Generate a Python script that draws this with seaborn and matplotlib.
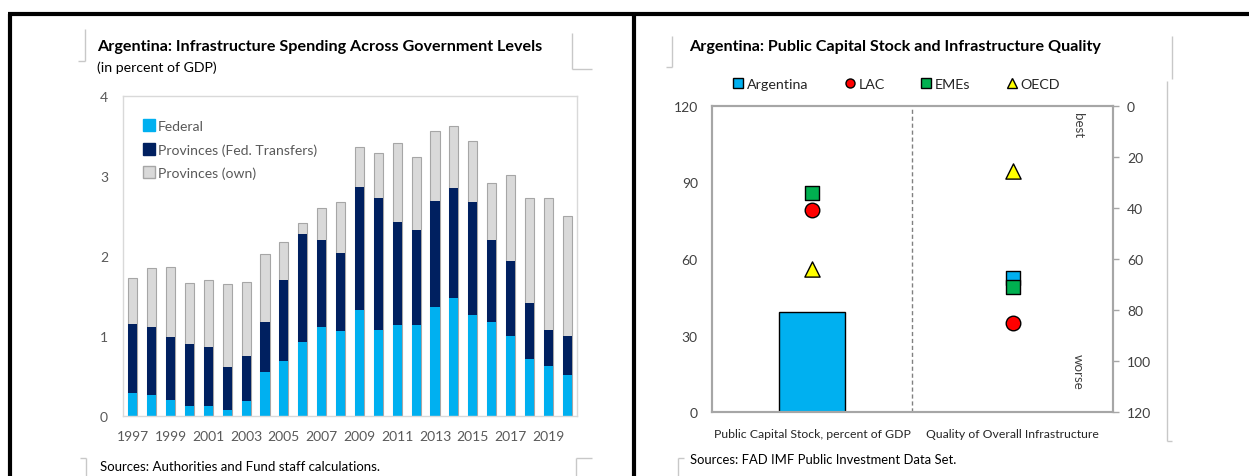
import numpy as np
import pandas as pd
import matplotlib
matplotlib.use("Agg")
import matplotlib.pyplot as plt
from matplotlib.lines import Line2D
import seaborn as sns

# ---------------- data ----------------
years = [str(y) for y in range(1997, 2021)]
federal = [0.29, 0.26, 0.20, 0.12, 0.12, 0.07, 0.19, 0.55, 0.69, 0.92, 1.11, 1.06,
           1.32, 1.07, 1.14, 1.14, 1.36, 1.47, 1.26, 1.17, 1.00, 0.71, 0.62, 0.51]
prov_transfers = [0.86, 0.85, 0.79, 0.78, 0.74, 0.54, 0.56, 0.62, 1.01, 1.36, 1.09, 0.98,
                  1.54, 1.66, 1.29, 1.18, 1.33, 1.38, 1.42, 1.03, 0.94, 0.70, 0.45, 0.49]
prov_own = [0.58, 0.74, 0.87, 0.76, 0.84, 1.04, 0.92, 0.85, 0.47, 0.13, 0.40, 0.64,
            0.51, 0.56, 0.99, 0.92, 0.87, 0.78, 0.76, 0.72, 1.07, 1.32, 1.66, 1.50]

categories = ["Public Capital Stock, percent of GDP", "Quality of Overall Infrastructure"]
groups = ["Argentina", "LAC", "EMEs", "OECD"]
capital_stock = [39.1, 79.2, 85.7, 56.1]      # percent of GDP (left axis)
quality_rank = [67.4, 85.2, 70.8, 25.4]       # rank (right axis, inverted)

# ---------------- style ----------------
sns.set_theme(style="white")
plt.rcParams["font.family"] = ["Lato", "DejaVu Sans"]

C_FED = "#00B0F0"
C_TRANS = "#002060"
C_OWN = "#D9D9D9"
group_colors = {"Argentina": "#00B0F0", "LAC": "#FF0000", "EMEs": "#00B050", "OECD": "#FFFF00"}
group_markers = {"Argentina": "s", "LAC": "o", "EMEs": "s", "OECD": "^"}
group_sizes = {"Argentina": 95, "LAC": 110, "EMEs": 95, "OECD": 120}

W, H = 1249, 477
fig = plt.figure(figsize=(W / 100, H / 100), dpi=100)
fig.patch.set_facecolor("white")


def fx(px):
    return px / W


def fy(py):
    return 1 - py / H


def fig_line(xs, ys, color, lw):
    fig.add_artist(Line2D([fx(x) for x in xs], [fy(y) for y in ys],
                          transform=fig.transFigure, color=color, lw=lw,
                          solid_capstyle="butt"))


# panel frame
fig_line([8, W], [15, 15], "black", 3)
fig_line([9.5, 9.5], [15, H], "black", 3)
fig_line([634, 634], [15, H], "black", 3)

# light corner marks around titles / sources
CM = "#C8C8C8"
fig_line([85, 85], [30, 62], CM, 1)
fig_line([78, 85], [62, 62], CM, 1)
fig_line([572, 572], [34, 70], CM, 1)
fig_line([572, 592], [70, 70], CM, 1)
fig_line([86, 86], [459, H], CM, 1)
fig_line([80, 86], [459, 459], CM, 1)
fig_line([576, 576], [459, H], CM, 1)
fig_line([576, 592], [459, 459], CM, 1)
fig_line([672, 672], [37, 68], CM, 1)
fig_line([666, 672], [68, 68], CM, 1)
fig_line([1172, 1172], [37, 80], CM, 1)
fig_line([1167, 1167], [82, 442], CM, 1)
fig_line([1167, 1172], [442, 442], CM, 1)
fig_line([678, 678], [459, H], CM, 1)
fig_line([678, 684], [459, 459], CM, 1)

# ---------------- left chart: stacked bars ----------------
axL = fig.add_axes([fx(123.3), fy(416.7), fx(576.7) - fx(123.3), fy(97.3) - fy(416.7)])
df = pd.DataFrame({"year": years, "federal": federal,
                   "transfers": prov_transfers, "own": prov_own})
df["lvl2"] = df["federal"] + df["transfers"]
df["lvl3"] = df["lvl2"] + df["own"]

bw = 0.48
sns.barplot(data=df, x="year", y="lvl3", order=years, color=C_OWN, saturation=1,
            width=bw, edgecolor="#A6A6A6", linewidth=0.8, ax=axL)
sns.barplot(data=df, x="year", y="lvl2", order=years, color=C_TRANS, saturation=1,
            width=bw, linewidth=0, ax=axL)
sns.barplot(data=df, x="year", y="federal", order=years, color=C_FED, saturation=1,
            width=bw, linewidth=0, ax=axL)

axL.set_xlim(-0.5, len(years) - 0.5)
axL.set_ylim(0, 4)
axL.set_yticks([0, 1, 2, 3, 4])
axL.set_xticks(range(0, len(years), 2))
axL.set_xticklabels(years[::2])
axL.set_xticks(np.arange(-0.5, len(years), 1), minor=True)
axL.set_xlabel("")
axL.set_ylabel("")
axL.tick_params(axis="both", which="major", length=0, labelsize=10, colors="#595959")
axL.tick_params(axis="x", which="major", pad=10)
axL.tick_params(axis="y", which="major", pad=11)
axL.tick_params(axis="x", which="minor", direction="in", length=4, color="#D9D9D9", width=1)
for s in axL.spines.values():
    s.set_color("#D9D9D9")
    s.set_linewidth(1)

legL = [
    Line2D([0], [0], marker="s", ls="", markersize=8, markerfacecolor=C_FED, markeredgecolor=C_FED),
    Line2D([0], [0], marker="s", ls="", markersize=8, markerfacecolor=C_TRANS, markeredgecolor=C_TRANS),
    Line2D([0], [0], marker="s", ls="", markersize=8, markerfacecolor=C_OWN, markeredgecolor="#A6A6A6"),
]
lg = axL.legend(legL, ["Federal", "Provinces (Fed. Transfers)", "Provinces (own)"],
                loc="upper left", bbox_to_anchor=(0.02, 0.965), frameon=False,
                fontsize=10.1, handlelength=0.6, handletextpad=0.3, labelspacing=0.78)
for t in lg.get_texts():
    t.set_color("#595959")

fig.text(fx(97), fy(47), "Argentina: Infrastructure Spending Across Government Levels",
         fontsize=11.6, fontweight="bold", color="black", va="center", ha="left")
fig.text(fx(97), fy(68), "(in percent of GDP)", fontsize=10.2, color="black",
         va="center", ha="left")
fig.text(fx(100), fy(467), "Sources: Authorities and Fund staff calculations.",
         fontsize=9.5, color="black", va="center", ha="left")

# ---------------- right chart: capital stock and quality ----------------
axR = fig.add_axes([fx(711.7), fy(413.3), fx(1113) - fx(711.7), fy(106.7) - fy(413.3)])
bar_df = pd.DataFrame({"cat": [categories[0]], "value": [capital_stock[0]]})
sns.barplot(data=bar_df, x="cat", y="value", order=categories, color=group_colors["Argentina"],
            saturation=1, width=0.33, edgecolor="black", linewidth=1, ax=axR)
axR.set_xlim(-0.5, 1.5)
axR.set_ylim(0, 120)
axR.set_yticks([0, 30, 60, 90, 120])
axR.set_xlabel("")
axR.set_ylabel("")
axR.axvline(0.5, color="#808080", lw=1, ls=(0, (3, 2)))

# group markers on the capital-stock category (left scale)
pts_left = pd.DataFrame({"group": groups[1:], "value": capital_stock[1:],
                         "x": [categories.index(categories[0])] * 3})
for g, row in pts_left.set_index("group").iterrows():
    sns.scatterplot(x=[row["x"]], y=[row["value"]], marker=group_markers[g], s=group_sizes[g],
                    color=group_colors[g], edgecolor="black", linewidth=1, ax=axR, zorder=5)

# quality ranking on the right, inverted scale
axR2 = axR.twinx()
axR2.set_ylim(120, 0)
axR2.set_yticks(range(0, 121, 20))
pts_right = pd.DataFrame({"group": groups, "value": quality_rank,
                          "x": [categories.index(categories[1])] * 4})
for g, row in pts_right.set_index("group").iterrows():
    sns.scatterplot(x=[row["x"]], y=[row["value"]], marker=group_markers[g], s=group_sizes[g],
                    color=group_colors[g], edgecolor="black", linewidth=1, ax=axR2, zorder=5)
axR2.set_xlim(-0.5, 1.5)
axR2.set_ylabel("")

axR.tick_params(axis="y", length=0, pad=10, labelsize=10, colors="#404040")
axR.tick_params(axis="x", length=0, pad=11, labelsize=8.8, colors="#262626")
axR2.tick_params(axis="y", length=4, width=1, color="#A6A6A6", pad=6, labelsize=10,
                 labelcolor="#404040", direction="out")
for a in (axR, axR2):
    for s in a.spines.values():
        s.set_color("#A6A6A6")
        s.set_linewidth(1.5)

axR2.text(0.913, 0.94, "best", transform=axR2.transAxes, rotation=270,
          ha="center", va="center", fontsize=9.6, color="#404040")
axR2.text(0.913, 0.135, "worse", transform=axR2.transAxes, rotation=270,
          ha="center", va="center", fontsize=9.6, color="#404040")

legR = [Line2D([0], [0], marker=group_markers[g], ls="", markersize=6.5 if g != "OECD" else 7,
               markerfacecolor=group_colors[g], markeredgecolor="black", markeredgewidth=1)
        for g in groups]
lgR = fig.legend(legR, groups, loc="center", bbox_to_anchor=(fx(897), fy(85)), ncol=4,
                 frameon=False, fontsize=10.3, handlelength=0.6, handletextpad=0.3,
                 columnspacing=2.6)
for t in lgR.get_texts():
    t.set_color("#262626")

fig.text(fx(689), fy(47), "Argentina: Public Capital Stock and Infrastructure Quality",
         fontsize=11.6, fontweight="bold", color="black", va="center", ha="left")
fig.text(fx(690), fy(460), "Sources: FAD IMF Public Investment Data Set.",
         fontsize=9.4, color="black", va="center", ha="left")

fig.savefig("out.png", dpi=100, facecolor="white")
